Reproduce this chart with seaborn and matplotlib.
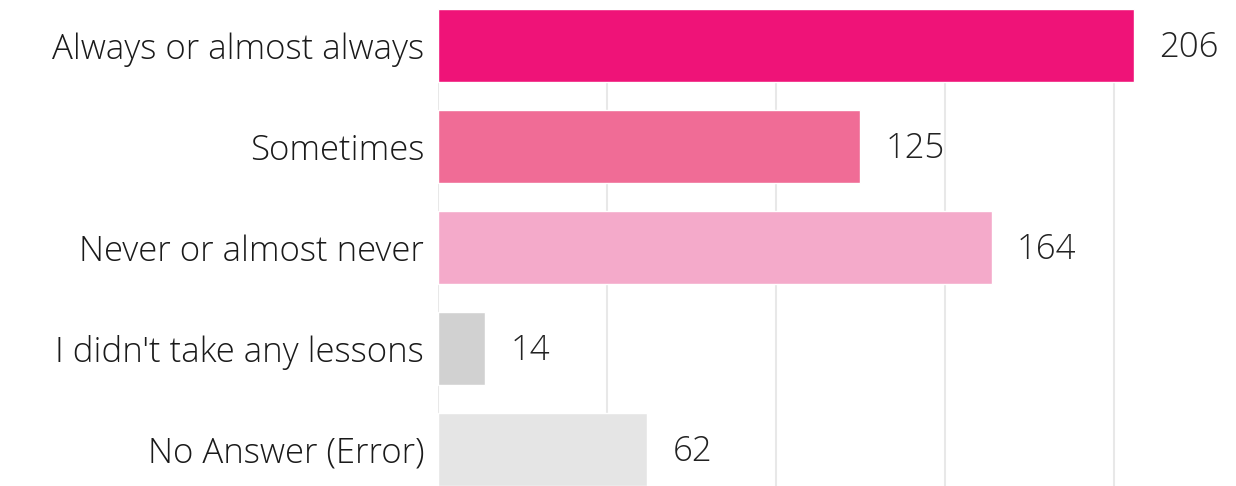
import matplotlib
matplotlib.use('Agg')
import matplotlib.pyplot as plt
import seaborn as sns
import pandas

# ====== DATA
answers = ['Always or almost always', 'Sometimes', 'Never or almost never',
           "I didn't take any lessons", 'No Answer (Error)']
counts = [206, 125, 164, 14, 62]
palette = ['#EF1378', '#F06C96', '#F4AACA', '#D1D1D1', '#E5E5E5']
grid_ticks = [0, 50, 100, 150, 200]

df = pandas.DataFrame({'answer': answers, 'count': counts})

sns.set_theme(style='white')
plt.rcParams['font.family'] = ['Open Sans', 'DejaVu Sans']

fig = plt.figure(figsize=(12.36, 4.86), dpi=100)
ax = fig.add_axes([438 / 1236, 0, 1 - 438 / 1236, 477 / 486])

sns.barplot(data=df, x='count', y='answer', hue='answer', palette=palette,
            orient='h', width=0.72, legend=False, ax=ax, saturation=1)

ax.set_xlim(0, 236.2)
ax.set_ylim(4.36, -0.36)
ax.set_xticks(grid_ticks)
ax.set_xticklabels([])
ax.tick_params(axis='x', length=0)
ax.tick_params(axis='y', length=0, pad=10, labelsize=25, labelcolor='#1a1a1a')
for lab in ax.get_yticklabels():
    lab.set_fontweight('light')
ax.grid(axis='x', color='#E8E8E8', linewidth=1.5)
ax.set_axisbelow(True)
for s in ax.spines.values():
    s.set_visible(False)
ax.set_xlabel('')
ax.set_ylabel('')

for i, v in enumerate(counts):
    ax.text(v + 7.4, i + 0.02, str(v), va='center', ha='left', fontsize=25,
            color='#222222', fontweight='light')

fig.savefig('out.png', dpi=100)
plt.close()
